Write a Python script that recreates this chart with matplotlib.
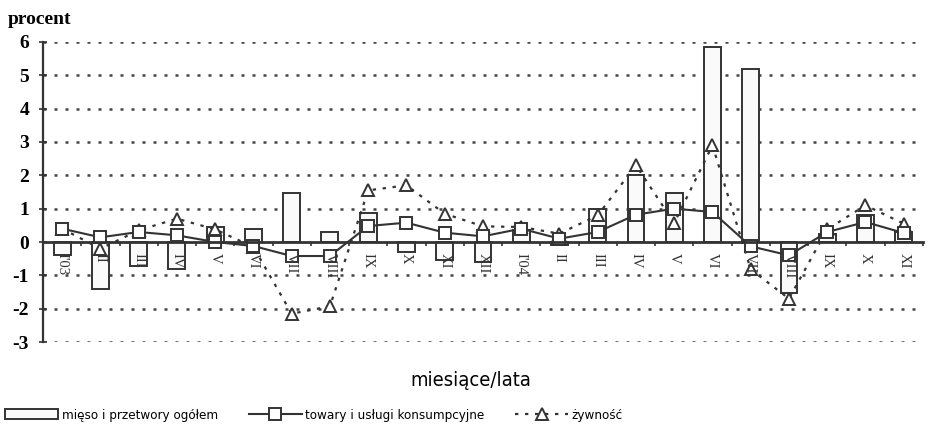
import matplotlib
matplotlib.use('Agg')
import matplotlib.pyplot as plt
from matplotlib import font_manager
import numpy as np

# dane
miesiace = ["I'03", "II", "III", "IV", "V", "VI", "VII", "VIII", "IX", "X", "XI", "XII",
            "I'04", "II", "III", "IV", "V", "VI", "VII", "VIII", "IX", "X", "XI"]
mieso = [-0.4, -1.42, -0.72, -0.82, 0.45, 0.38, 1.47, 0.3, 0.87, -0.3, -0.53, -0.6,
         0.35, -0.1, 0.98, 2.0, 1.47, 5.85, 5.18, -1.53, 0.25, 0.82, 0.3]
towary = [0.4, 0.14, 0.3, 0.2, 0.0, -0.12, -0.42, -0.42, 0.48, 0.58, 0.28, 0.17,
          0.4, 0.1, 0.3, 0.82, 1.0, 0.9, -0.13, -0.4, 0.3, 0.6, 0.27]
zywnosc = [0.4, -0.2, 0.35, 0.7, 0.38, -0.15, -2.15, -1.93, 1.55, 1.7, 0.85, 0.47,
           0.45, 0.25, 0.8, 2.3, 0.57, 2.9, -0.82, -1.7, 0.38, 1.1, 0.55]
y_ticks = [-3, -2, -1, 0, 1, 2, 3, 4, 5, 6]

dark = '#333333'
serif = ['Liberation Serif', 'DejaVu Serif']

# wąska czcionka, jeśli jest zainstalowana
narrow_files = [f for f in font_manager.findSystemFonts()
                if ('Narrow' in f or 'Condensed' in f) and 'Bold' not in f
                and 'Oblique' not in f and 'Italic' not in f]
narrow_prop = None
for f in sorted(narrow_files, key=lambda s: ('Liberation' not in s, s)):
    try:
        narrow_prop = font_manager.FontProperties(fname=f)
        break
    except Exception:
        pass
if narrow_prop is not None:
    leg_prop = font_manager.FontProperties(fname=narrow_prop.get_file(), size=9.6)
    xl_prop = font_manager.FontProperties(fname=narrow_prop.get_file(), size=14.5)
else:
    leg_prop = font_manager.FontProperties(family='Liberation Sans', size=9.8)
    xl_prop = font_manager.FontProperties(family='Liberation Sans', size=13.5)

fig = plt.figure(figsize=(9.39, 4.32), dpi=100)
ax = fig.add_axes([0.0458, 0.2083, 0.937, 0.6945])

x = np.arange(len(miesiace))

# siatka kropkowana
for v in y_ticks:
    if v != 0:
        ax.axhline(v, color='#444444', lw=1.8, ls=(0, (1.2, 3.2)), zorder=1)

bars = ax.bar(x, mieso, width=0.44, facecolor='#fafafa', edgecolor=dark, lw=1.4,
              zorder=2, label='mięso i przetwory ogółem')
line1, = ax.plot(x, towary, color=dark, lw=1.5, marker='s', markersize=8,
                 markerfacecolor='white', markeredgecolor=dark, markeredgewidth=1.4,
                 zorder=4, label='towary i usługi konsumpcyjne')
line2, = ax.plot(x, zywnosc, color=dark, lw=1.6, ls=(0, (1.5, 3)), marker='^',
                 markersize=9, markerfacecolor='white', markeredgecolor=dark,
                 markeredgewidth=1.4, zorder=3, label='żywność')

ax.set_xlim(-0.5, len(miesiace) - 0.5)
ax.set_ylim(-3, 6)

for s in ['top', 'right']:
    ax.spines[s].set_visible(False)
ax.spines['bottom'].set_position(('data', 0))
ax.spines['bottom'].set_linewidth(2)
ax.spines['bottom'].set_color(dark)
ax.spines['bottom'].set_zorder(5)
ax.spines['left'].set_linewidth(1.6)
ax.spines['left'].set_color(dark)

ax.set_xticks(np.arange(-0.5, len(miesiace), 1))
ax.set_xticklabels([])
ax.tick_params(axis='x', length=3, width=1.2, color=dark, direction='out')
ax.set_yticks(y_ticks)
ax.set_yticklabels([str(v) for v in y_ticks], fontfamily=serif, fontweight='bold',
                   fontsize=14)
ax.tick_params(axis='y', length=6, width=1.2, color=dark, direction='inout', pad=7)

# etykiety miesięcy (pionowe, pod osią zero)
for i, m in enumerate(miesiace):
    ax.annotate(m, (i, 0), xytext=(0, -8), textcoords='offset points',
                rotation=-90, ha='center', va='top', fontsize=10.5,
                fontfamily=serif, color=dark, zorder=6)

fig.text(8 / 939, 1 - 24 / 432, 'procent', fontfamily=serif, fontweight='bold',
         fontsize=14, va='baseline')
fig.text(471 / 939, 1 - 381 / 432, 'miesiące/lata', ha='center', va='center',
         fontproperties=xl_prop)

fig.legend([bars, line1, line2],
           ['mięso i przetwory ogółem', 'towary i usługi konsumpcyjne', 'żywność'],
           loc='center left', bbox_to_anchor=(0.004, 1 - 415 / 432), ncol=3,
           frameon=False, handlelength=4.0, handleheight=0.8, columnspacing=2.3,
           handletextpad=0.25, borderaxespad=0, borderpad=0.1, prop=leg_prop)

fig.savefig('out.png', dpi=100)
